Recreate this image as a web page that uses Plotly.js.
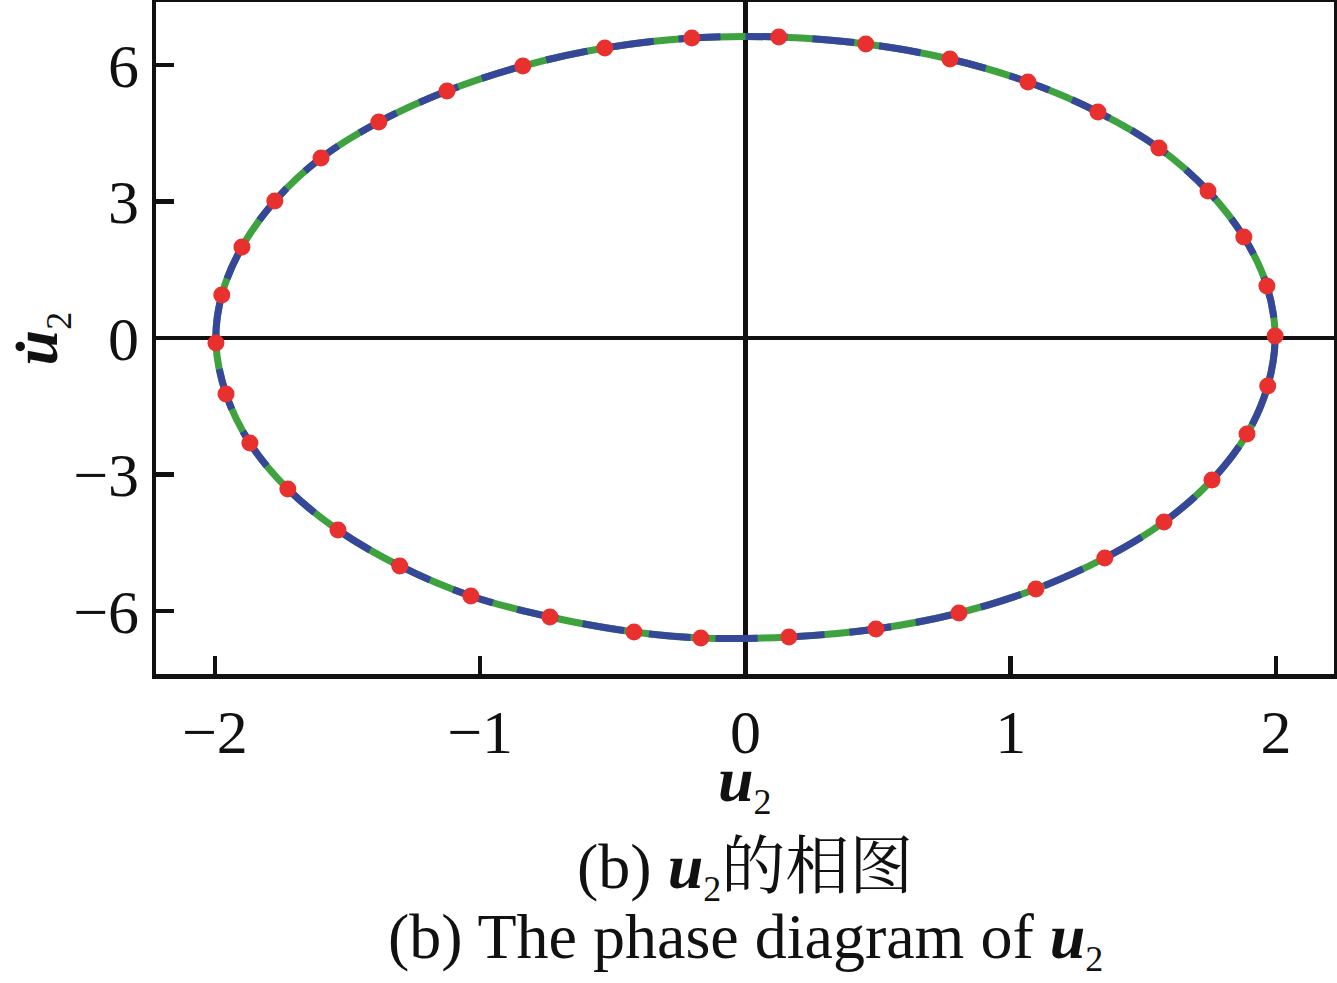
<!DOCTYPE html>
<html>
<head>
<meta charset="utf-8">
<script src="https://cdn.plot.ly/plotly-3.0.1.min.js"></script>
<style>html,body{margin:0;padding:0;background:#fff;}#chart{width:1337px;height:983px;}</style>
</head>
<body>
<div id="chart"></div>
<script>
// Phase trajectory of u2, clockwise from the right extreme
const u2 = [1.997, 1.969, 1.891, 1.759, 1.578, 1.355, 1.095, 0.805, 0.492, 0.164,
            -0.168, -0.420, -0.737, -1.035, -1.303, -1.536, -1.725, -1.868, -1.958,
            -1.996, -1.974, -1.898, -1.774, -1.600, -1.382, -1.125, -0.839, -0.530, -0.202,
            0.126, 0.454, 0.771, 1.065, 1.329, 1.559, 1.744, 1.879, 1.966];
const du2 = [0.044, -1.055, -2.110, -3.121, -4.044, -4.835, -5.516, -6.044, -6.396, -6.571,
             -6.593, -6.462, -6.132, -5.670, -5.011, -4.220, -3.319, -2.308, -1.231,
             -0.110, 0.945, 1.999, 3.011, 3.956, 4.747, 5.429, 5.978, 6.374, 6.593,
             6.615, 6.462, 6.132, 5.626, 4.967, 4.176, 3.231, 2.220, 1.143];
const xTicks = [-2, -1, 0, 1, 2];
const yTicks = [-6, -3, 0, 3, 6];

const lineX = u2.concat([u2[0]]);
const lineY = du2.concat([du2[0]]);

const serif = "'Liberation Serif', 'Times New Roman', 'Noto Serif CJK SC', 'Noto Sans CJK SC', serif";
const sub2 = '<sub><span style="font-size:36px">2</span></sub>';
const uB = '<b><i>u</i></b>';

const traces = [
  {x: lineX, y: lineY, mode: 'lines', line: {color: '#3ea23e', width: 7, shape: 'spline', smoothing: 1}, hoverinfo: 'skip', showlegend: false},
  {x: lineX, y: lineY, mode: 'lines', line: {color: '#36479a', width: 7, shape: 'spline', smoothing: 1, dash: '42px,25px'}, hoverinfo: 'skip', showlegend: false},
  {x: u2, y: du2, mode: 'markers', marker: {color: '#e8312f', size: 17}, showlegend: false}
];

const axisCommon = {
  showgrid: false,
  zeroline: true, zerolinecolor: '#111', zerolinewidth: 4.5,
  showline: true, linecolor: '#111', linewidth: 4.5, mirror: true,
  ticks: 'inside', ticklen: 18, tickwidth: 4.5, tickcolor: '#111',
  tickfont: {family: serif, size: 62, color: '#111'}
};

const layout = {
  width: 1337, height: 983,
  margin: {l: 156, r: 3, t: 2, b: 309},
  paper_bgcolor: '#fff', plot_bgcolor: '#fff',
  font: {family: serif, color: '#111'},
  xaxis: Object.assign({}, axisCommon, {range: [-2.222, 2.219], tickvals: xTicks}),
  yaxis: Object.assign({}, axisCommon, {range: [-7.385, 7.385], tickvals: yTicks}),
  annotations: [
    {xref: 'paper', yref: 'paper', x: 0.5, y: -0.162, xanchor: 'center', yanchor: 'middle', showarrow: false,
     text: uB + sub2, font: {family: serif, size: 64, color: '#111'}},
    {xref: 'paper', yref: 'paper', x: -0.099, y: 0.5, xanchor: 'center', yanchor: 'middle', showarrow: false, textangle: -90,
     text: '<b><i>u\u0307</i></b>' + sub2, font: {family: serif, size: 64, color: '#111'}},
    {xref: 'paper', yref: 'paper', x: 0.5, y: -0.292, xanchor: 'center', yanchor: 'middle', showarrow: false,
     text: '(b) ' + uB + sub2 + '的相图', font: {family: serif, size: 64, color: '#111'}},
    {xref: 'paper', yref: 'paper', x: 0.5, y: -0.396, xanchor: 'center', yanchor: 'middle', showarrow: false,
     text: '(b) The phase diagram of ' + uB + sub2, font: {family: serif, size: 64, color: '#111'}}
  ]
};

Plotly.newPlot('chart', traces, layout, {displayModeBar: false, staticPlot: true});
</script>
</body>
</html>
